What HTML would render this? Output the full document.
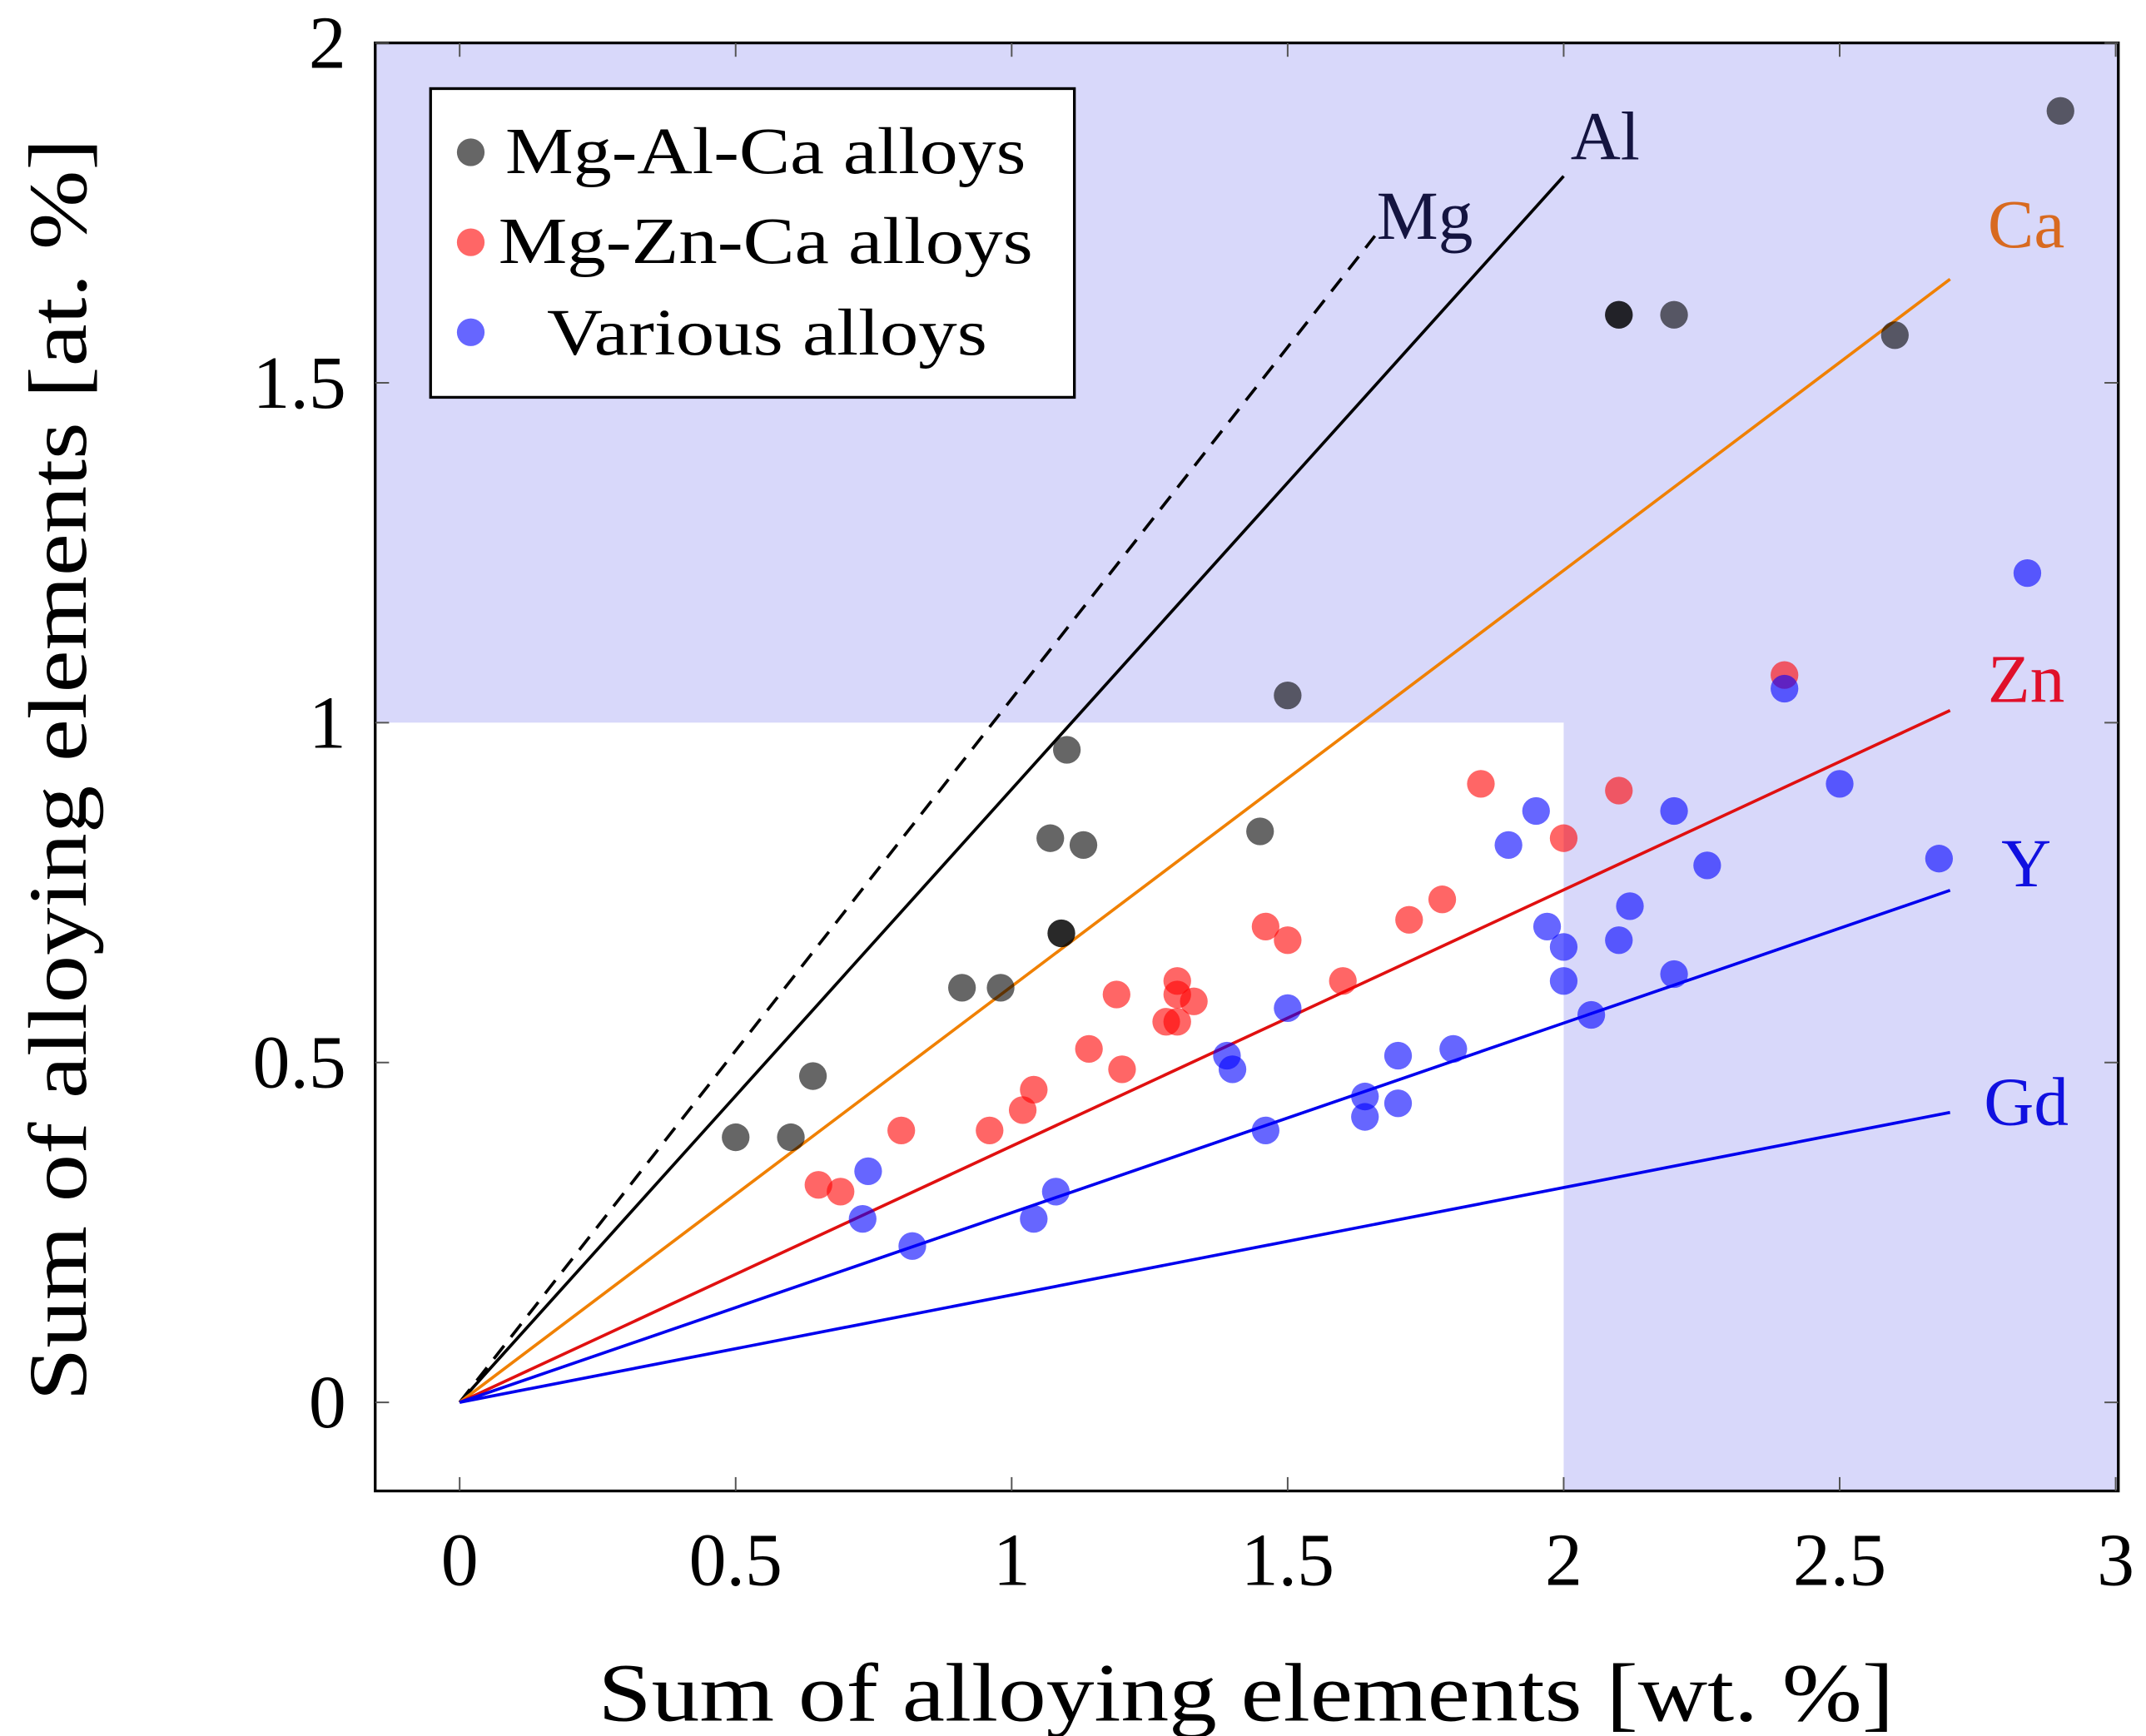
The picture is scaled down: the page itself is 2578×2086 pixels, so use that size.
<!DOCTYPE html>
<html><head><meta charset="utf-8"><style>
html,body{margin:0;padding:0;background:#fff;}
svg{display:block;}
text{font-family:"Liberation Serif",serif;}
</style></head><body>
<svg id="chart" width="2578" height="2086" viewBox="0 0 1550 1254" preserveAspectRatio="none" xmlns="http://www.w3.org/2000/svg">
<g id="bg"></g>
<g id="lines"></g>
<g id="pts"></g>
<g id="axes"></g>
<g id="legend">
<rect x="311" y="64" width="465" height="223" fill="#fff" stroke="#000" stroke-width="2"/>
<circle cx="340" cy="110" r="10" fill="#000" fill-opacity="0.6"/>
<text x="365" y="125" font-size="48" textLength="376" lengthAdjust="spacingAndGlyphs">Mg-Al-Ca alloys</text>
<circle cx="340" cy="175" r="10" fill="#f00" fill-opacity="0.6"/>
<text x="360" y="190" font-size="48" textLength="386" lengthAdjust="spacingAndGlyphs">Mg-Zn-Ca alloys</text>
<circle cx="340" cy="240" r="10" fill="#00f" fill-opacity="0.6"/>
<text x="395" y="256" font-size="48" textLength="318" lengthAdjust="spacingAndGlyphs">Various alloys</text>
</g>
</svg>
<script>
const NS="http://www.w3.org/2000/svg";
const xTicks=[0,0.5,1,1.5,2,2.5,3];
const yTicks=[0,0.5,1,1.5,2];
const lineNames=["Mg","Al","Ca","Zn","Y","Gd"];
const lineSlopes=[1.035,0.902,0.612,0.377,0.279,0.158];
const lineEndX=[1.658,2.0,2.70,2.70,2.70,2.70];
const grayX=[0.50,0.60,0.64,0.91,0.98,1.07,1.10,1.13,1.09,1.09,1.45,1.50,2.10,2.10,2.20,2.60,2.90];
const grayY=[0.39,0.39,0.48,0.61,0.61,0.83,0.96,0.82,0.69,0.69,0.84,1.04,1.60,1.60,1.60,1.57,1.90];
const redX=[0.65,0.69,0.80,0.96,1.02,1.04,1.14,1.19,1.20,1.28,1.30,1.30,1.30,1.33,1.46,1.50,1.60,1.72,1.78,1.85,2.00,2.10,2.40];
const redY=[0.32,0.31,0.40,0.40,0.43,0.46,0.52,0.60,0.49,0.56,0.56,0.62,0.60,0.59,0.70,0.68,0.62,0.71,0.74,0.91,0.83,0.90,1.07];
const blueX=[0.74,0.73,0.82,1.04,1.08,1.39,1.40,1.46,1.50,1.64,1.64,1.70,1.70,1.80,1.90,1.95,1.97,2.00,2.00,2.05,2.10,2.12,2.20,2.20,2.26,2.40,2.50,2.68,2.84];
const blueY=[0.34,0.27,0.23,0.27,0.31,0.51,0.49,0.40,0.58,0.45,0.42,0.51,0.44,0.52,0.82,0.87,0.70,0.67,0.62,0.57,0.68,0.73,0.87,0.63,0.79,1.05,0.91,0.80,1.22];

const L=271,R=1530,T=31,B=1077;
const sx=v=>332+v*398.7, sy=v=>1013-v*491;
function el(tag,attrs,parent,name){const e=document.createElementNS(NS,tag);for(const k in attrs)e.setAttribute(k,attrs[k]);


parent.appendChild(e);return e;}
const bg=document.getElementById('bg');
el('rect',{x:L,y:T,width:R-L,height:B-T,fill:'#d8d8fa'},bg,'shaded-region');
el('rect',{x:L,y:sy(1),width:sx(2)-L,height:B-sy(1),fill:'#fff'},bg,'white-region');

const lg=document.getElementById('lines');
const lcol=['#000','#000','#f08000','#e01010','#0000ee','#0000ee'];
const tcol=['#141440','#141440','#d86a20','#e0102a','#1010e0','#1010e0'];
const loff=[[36,2],[30,-12],[55,-23],[55,-6],[55,-3],[55,9]];
lineNames.forEach((n,i)=>{
  const x2=lineEndX[i],y2=x2*lineSlopes[i];
  const a={x1:sx(0),y1:sy(0),x2:sx(x2),y2:sy(y2),stroke:lcol[i],'stroke-width':2.2};
  if(i===0)a['stroke-dasharray']='12,8';
  el('line',a,lg,'line-'+n.toLowerCase());
  const t=el('text',{x:sx(x2)+loff[i][0],y:sy(y2)+loff[i][1],'font-size':50,fill:tcol[i],'text-anchor':'middle'},lg,'label-'+n.toLowerCase());
  t.textContent=n;
});

const pg=document.getElementById('pts');
function series(xs,ys,c,name){xs.forEach((x,i)=>{el('circle',{cx:sx(x),cy:sy(ys[i]),r:10,fill:c,'fill-opacity':0.6},pg,name+'-point');});}
series(grayX,grayY,'#000','mg-al-ca');
series(redX,redY,'#f00','mg-zn-ca');
series(blueX,blueY,'#00f','various');

const ax=document.getElementById('axes');
el('rect',{x:L,y:T,width:R-L,height:B-T,fill:'none',stroke:'#000','stroke-width':2},ax,'plot-frame');
xTicks.forEach(v=>{
  el('line',{x1:sx(v),y1:B,x2:sx(v),y2:B-10,stroke:'#555','stroke-width':1.2},ax,'x-tick');
  el('line',{x1:sx(v),y1:T,x2:sx(v),y2:T+10,stroke:'#555','stroke-width':1.2},ax,'x-tick-top');
  const t=el('text',{x:sx(v),y:1145,'font-size':54,'text-anchor':'middle'},ax,'x-tick-label');t.textContent=String(v);
});
yTicks.forEach(v=>{
  el('line',{x1:L,y1:sy(v),x2:L+10,y2:sy(v),stroke:'#555','stroke-width':1.2},ax,'y-tick');
  el('line',{x1:R,y1:sy(v),x2:R-10,y2:sy(v),stroke:'#555','stroke-width':1.2},ax,'y-tick-right');
  const t=el('text',{x:250,y:sy(v)+18,'font-size':54,'text-anchor':'end'},ax,'y-tick-label');t.textContent=String(v);
});
const xt=el('text',{x:432,y:1243,'font-size':60,textLength:936,lengthAdjust:'spacingAndGlyphs'},ax,'x-axis-title');xt.textContent='Sum of alloying elements [wt. %]';
const yt=el('text',{x:0,y:0,'font-size':60,textLength:912,lengthAdjust:'spacingAndGlyphs',transform:'translate(62,1012) rotate(-90)'},ax,'y-axis-title');yt.textContent='Sum of alloying elements [at. %]';
</script>
</body></html>
